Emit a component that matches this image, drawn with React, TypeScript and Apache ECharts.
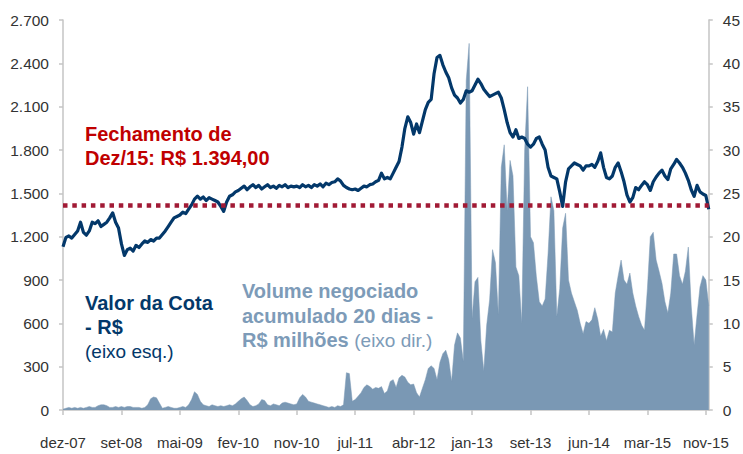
import React, { useEffect, useRef } from 'react';
import * as echarts from 'echarts';

// X tick labels (one every POINTS_PER_TICK samples)
const tickLabels = ['dez-07', 'set-08', 'mai-09', 'fev-10', 'nov-10', 'jul-11', 'abr-12', 'jan-13', 'set-13', 'jun-14', 'mar-15', 'nov-15'];
const POINTS_PER_TICK = 20;

// Valor da Cota - R$ (eixo esq.)
const cota = [
  1130, 1195, 1205, 1190, 1215, 1240, 1300, 1230, 1210, 1240, 1300, 1290, 1310, 1270, 1285, 1300, 1330, 1365, 1300, 1260,
  1150, 1070, 1110, 1120, 1100, 1140, 1125, 1150, 1170, 1160, 1180, 1170, 1190, 1190, 1215, 1240, 1270, 1300, 1330, 1340,
  1350, 1370, 1360, 1390, 1420, 1460, 1480, 1460, 1475, 1450, 1470, 1460, 1450, 1440, 1410, 1375, 1440, 1480, 1490, 1510,
  1520, 1535, 1550, 1525, 1545, 1560, 1540, 1555, 1530, 1545, 1560, 1540, 1550, 1535, 1555, 1545, 1560, 1540, 1550, 1545,
  1550, 1540, 1560, 1545, 1555, 1540, 1560, 1550, 1565, 1545, 1570, 1560, 1575, 1580, 1600, 1585, 1555, 1540, 1530, 1525,
  1530, 1520, 1535, 1550, 1545, 1560, 1565, 1580, 1590, 1640, 1600, 1610, 1600, 1640, 1680, 1720, 1820, 1950, 2030, 1990,
  1910, 1980, 1920, 2000, 2080, 2130, 2150, 2330, 2440, 2455, 2390, 2340, 2300, 2230, 2180, 2160, 2125, 2150, 2210, 2200,
  2210, 2250, 2290, 2260, 2220, 2195, 2170, 2180, 2190, 2200, 2160, 2080, 1990, 1920, 1890, 1940, 1880, 1890, 1880, 1840,
  1820, 1840, 1880, 1890, 1840, 1800, 1680, 1620, 1610, 1600, 1510, 1410, 1580, 1670, 1690, 1710, 1700, 1690, 1660, 1690,
  1690, 1700, 1680, 1720, 1780, 1680, 1610, 1600, 1620, 1680, 1710, 1650, 1580, 1490, 1440, 1470, 1540, 1525, 1555, 1580,
  1560, 1520, 1580, 1613, 1640, 1660, 1620, 1595, 1670, 1700, 1735, 1710, 1680, 1640, 1590, 1525, 1480, 1555, 1510, 1495, 1485, 1390,
];

// Volume negociado acumulado 20 dias - R$ milhões (eixo dir.)
const volume = [
  0.1, 0.2, 0.3, 0.2, 0.3, 0.2, 0.3, 0.2, 0.3, 0.4, 0.3, 0.3, 0.5, 0.6, 0.6, 0.5, 0.3, 0.3, 0.4, 0.3,
  0.4, 0.3, 0.4, 0.4, 0.3, 0.3, 0.3, 0.2, 0.3, 0.6, 1.3, 1.5, 1.4, 0.8, 0.2, 0.3, 0.4, 0.3, 0.2, 0.2,
  0.3, 0.4, 0.3, 0.6, 1.2, 2.1, 1.8, 1.0, 0.6, 0.5, 0.4, 0.6, 0.5, 0.4, 0.5, 0.4, 0.5, 0.6, 0.5, 0.7,
  1.0, 1.3, 1.5, 1.1, 0.6, 0.4, 0.5, 0.7, 1.2, 1.1, 0.6, 0.5, 0.7, 0.6, 0.5, 0.8, 0.9, 0.8, 0.7, 0.6,
  0.7, 1.4, 1.8, 1.5, 1.0, 0.9, 0.8, 0.7, 0.6, 0.5, 0.4, 0.3, 0.4, 0.3, 0.5, 0.4, 0.6, 4.3, 4.2, 1.0,
  1.2, 1.6, 2.0, 2.6, 2.9, 2.7, 2.4, 2.6, 2.5, 2.7, 1.9, 2.2, 3.3, 3.5, 2.6, 3.7, 4.0, 3.8, 3.2, 2.9,
  3.0, 2.0, 1.5, 2.5, 3.5, 4.8, 5.1, 4.8, 3.5, 5.5, 6.5, 6.9, 5.8, 3.3, 7.5, 8.9, 8.3, 5.6, 38.0, 42.3,
  10.6, 14.8, 15.3, 8.0, 4.5, 9.8, 12.7, 18.5, 17.0, 11.0, 28.0, 30.6, 23.0, 28.8, 27.0, 16.5, 15.5, 10.0, 30.0, 37.3,
  20.0, 19.3, 15.4, 12.5, 12.0, 12.8, 18.0, 24.6, 23.0, 10.8, 14.0, 21.0, 22.7, 15.0, 13.5, 12.5, 11.5, 10.0, 8.8, 10.2,
  10.0, 10.4, 11.8, 10.5, 8.5, 9.3, 8.0, 9.2, 9.0, 13.5, 15.5, 17.3, 15.0, 14.5, 15.8, 13.5, 12.0, 10.8, 9.8, 9.2,
  14.0, 20.0, 20.5, 17.3, 16.0, 14.6, 12.5, 11.2, 13.5, 18.0, 18.0, 15.5, 14.5, 16.0, 18.8, 12.0, 7.5, 11.0, 14.2, 15.5, 15.0, 12.0,
];

// Axis ranges
const leftMin = 0, leftMax = 2700, leftInterval = 300;
const rightMin = 0, rightMax = 45, rightInterval = 5;

// Closing reference line (Dez/15)
const closeRefLevel = 1419;

const FONT = '"Liberation Sans", Arial, Helvetica, sans-serif';
const AXIS_GREY = '#c4c4c4';
const LABEL_COLOR = '#333333';
const DARK_BLUE = '#03386a';
const VOL_BLUE = '#7a98b4';
const VOL_TEXT = '#7d9bb8';
const RED_TEXT = '#c00000';
const RED_LINE = '#a11a35';

const categories = cota.map((_, i) => 'p' + i);
const isTick = (idx: number) => idx % POINTS_PER_TICK === 0 && idx / POINTS_PER_TICK < tickLabels.length;

function fmtThousands(v: number): string {
  const s = String(Math.round(v));
  return s.replace(/\B(?=(\d{3})+(?!\d))/g, '.');
}

export default function App() {
  const ref = useRef<HTMLDivElement>(null);

  useEffect(() => {
    if (!ref.current) return;
    const chart = echarts.init(ref.current, null, { renderer: 'svg' });
    const option: any = {
      animation: false,
      backgroundColor: '#ffffff',
      grid: { left: 63, right: 34, top: 20, bottom: 44, containLabel: false },
      xAxis: {
        type: 'category',
        data: categories,
        boundaryGap: false,
        axisLine: { show: true, lineStyle: { color: AXIS_GREY, width: 1.5 } },
        axisTick: { show: true, interval: (idx: number) => isTick(idx), length: 5, lineStyle: { color: AXIS_GREY, width: 1.5 } },
        axisLabel: {
          interval: (idx: number) => isTick(idx),
          hideOverlap: false,
          margin: 25,
          color: LABEL_COLOR,
          fontFamily: FONT,
          fontSize: 15,
          formatter: (_v: string, idx: number) => (isTick(idx) ? tickLabels[idx / POINTS_PER_TICK] : ''),
        },
        splitLine: { show: false },
      },
      yAxis: [
        {
          type: 'value',
          min: leftMin,
          max: leftMax,
          interval: leftInterval,
          position: 'left',
          axisLine: { show: true, lineStyle: { color: AXIS_GREY, width: 1.5 } },
          axisTick: { show: true, length: 4, lineStyle: { color: AXIS_GREY, width: 1.5 } },
          axisLabel: { margin: 14, color: LABEL_COLOR, fontFamily: FONT, fontSize: 15.5, formatter: (v: number) => fmtThousands(v) },
          splitLine: { show: false },
        },
        {
          type: 'value',
          min: rightMin,
          max: rightMax,
          interval: rightInterval,
          position: 'right',
          axisLine: { show: true, lineStyle: { color: AXIS_GREY, width: 1.5 } },
          axisTick: { show: true, length: 4, lineStyle: { color: AXIS_GREY, width: 1.5 } },
          axisLabel: { margin: 14, color: LABEL_COLOR, fontFamily: FONT, fontSize: 15.5 },
          splitLine: { show: false },
        },
      ],
      series: [
        {
          name: 'Volume',
          type: 'line',
          yAxisIndex: 1,
          data: volume,
          showSymbol: false,
          symbol: 'none',
          lineStyle: { width: 0.5, color: VOL_BLUE },
          areaStyle: { color: VOL_BLUE, opacity: 1 },
          z: 2,
        },
        {
          name: 'Cota',
          type: 'line',
          yAxisIndex: 0,
          data: cota,
          showSymbol: false,
          symbol: 'none',
          lineStyle: { width: 3.2, color: DARK_BLUE, join: 'round' },
          z: 3,
          markLine: {
            silent: true,
            symbol: ['none', 'none'],
            label: { show: false },
            lineStyle: { color: RED_LINE, width: 4.5, type: [4.5, 4.8], cap: 'butt' },
            data: [{ yAxis: closeRefLevel }],
          },
        },
      ],
      graphic: [
        { type: 'text', left: 85, top: 124, z: 10, style: { text: 'Fechamento de', fill: RED_TEXT, font: `bold 20px ${FONT}` } },
        { type: 'text', left: 85, top: 148, z: 10, style: { text: 'Dez/15: R$ 1.394,00', fill: RED_TEXT, font: `bold 20px ${FONT}` } },
        { type: 'text', left: 85, top: 293, z: 10, style: { text: 'Valor da Cota', fill: DARK_BLUE, font: `bold 20px ${FONT}` } },
        { type: 'text', left: 85, top: 317, z: 10, style: { text: '- R$', fill: DARK_BLUE, font: `bold 20px ${FONT}` } },
        { type: 'text', left: 85, top: 342, z: 10, style: { text: '(eixo esq.)', fill: DARK_BLUE, font: `19px ${FONT}` } },
        { type: 'text', left: 242, top: 281, z: 10, style: { text: 'Volume negociado', fill: VOL_TEXT, font: `bold 20px ${FONT}` } },
        { type: 'text', left: 242, top: 306, z: 10, style: { text: 'acumulado 20 dias -', fill: VOL_TEXT, font: `bold 20px ${FONT}` } },
        {
          type: 'text', left: 242, top: 330, z: 10,
          style: {
            text: '{b|R$ milhões} {r|(eixo dir.)}',
            fill: VOL_TEXT,
            font: `bold 20px ${FONT}`,
            rich: {
              b: { fontFamily: FONT, fontSize: 20, fontWeight: 'bold', fill: VOL_TEXT },
              r: { fontFamily: FONT, fontSize: 19, fontWeight: 'normal', fill: VOL_TEXT },
            },
          },
        },
      ],
    };
    chart.setOption(option);
    return () => chart.dispose();
  }, []);

  return (
    <div
      ref={ref}
      style={{ position: 'fixed', left: 0, top: 0, width: 743, height: 454, background: '#fff' }}
    />
  );
}
